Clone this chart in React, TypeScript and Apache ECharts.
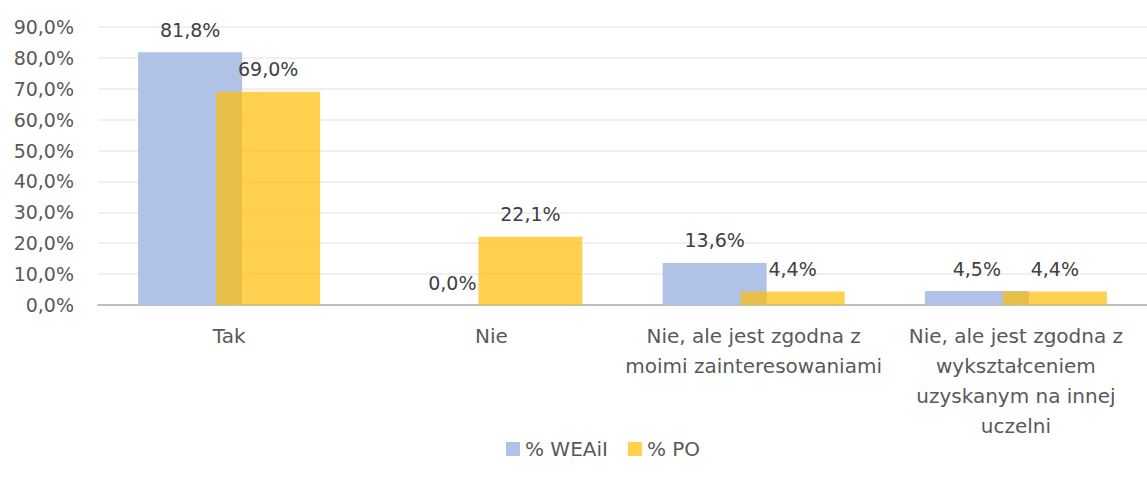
import React, { useEffect, useRef } from "react";
import * as echarts from "echarts";

const categories = [
  "Tak",
  "Nie",
  "Nie, ale jest zgodna z\nmoimi zainteresowaniami",
  "Nie, ale jest zgodna z\nwykształceniem\nuzyskanym na innej\nuczelni",
];
const seriesWEAiI = [81.8, 0.0, 13.6, 4.5];
const seriesPO = [69.0, 22.1, 4.4, 4.4];
const seriesNames = ["% WEAiI", "% PO"];

const FONT = "'DejaVu Sans', sans-serif";
const FS = 19;

export default function App() {
  const ref = useRef<HTMLDivElement>(null);
  useEffect(() => {
    if (!ref.current) return;
    const chart = echarts.init(ref.current, null, { renderer: "svg" });
    const fmt = (v: number) => v.toFixed(1).replace(".", ",") + "%";
    chart.setOption({
      animation: false,
      textStyle: { fontFamily: FONT },
      grid: { left: 98, right: -11, top: 27, bottom: 179 },
      legend: {
        bottom: 20,
        left: 501,
        itemWidth: 14,
        itemHeight: 14,
        itemGap: 20,
        icon: "rect",
        textStyle: { fontSize: 20, color: "#595959", fontFamily: FONT },
        data: seriesNames,
      },
      xAxis: {
        type: "category",
        data: categories,
        axisLine: { lineStyle: { color: "#bfbfbf", width: 2 } },
        axisTick: { show: false },
        axisLabel: {
          fontSize: 20,
          color: "#595959",
          lineHeight: 30,
          margin: 16,
          interval: 0,
          fontFamily: FONT,
        },
      },
      yAxis: {
        type: "value",
        min: 0,
        max: 90,
        interval: 10,
        axisLabel: {
          fontSize: FS,
          color: "#595959",
          margin: 24,
          fontFamily: FONT,
          formatter: (v: number) => fmt(v),
        },
        splitLine: { lineStyle: { color: "#ebebeb", width: 1.5 } },
      },
      series: [
        {
          name: seriesNames[0],
          type: "bar",
          data: seriesWEAiI,
          barWidth: 104,
          barGap: "-25%",
          itemStyle: { color: "#b0c3e6" },
          label: {
            show: true,
            position: "top",
            distance: 13,
            fontSize: FS,
            color: "#404040",
            fontFamily: FONT,
            formatter: (p: any) => fmt(p.value),
          },
        },
        {
          name: seriesNames[1],
          type: "bar",
          data: seriesPO,
          barWidth: 104,
          barGap: "-25%",
          itemStyle: { color: "rgba(255,188,0,0.69)" },
          label: {
            show: true,
            position: "top",
            distance: 13,
            fontSize: FS,
            color: "#404040",
            fontFamily: FONT,
            formatter: (p: any) => fmt(p.value),
          },
        },
      ],
    });
    return () => chart.dispose();
  }, []);
  return (
    <div
      ref={ref}
      style={{ position: "fixed", left: 0, top: 0, width: 1147, height: 484, background: "#fff" }}
    />
  );
}
